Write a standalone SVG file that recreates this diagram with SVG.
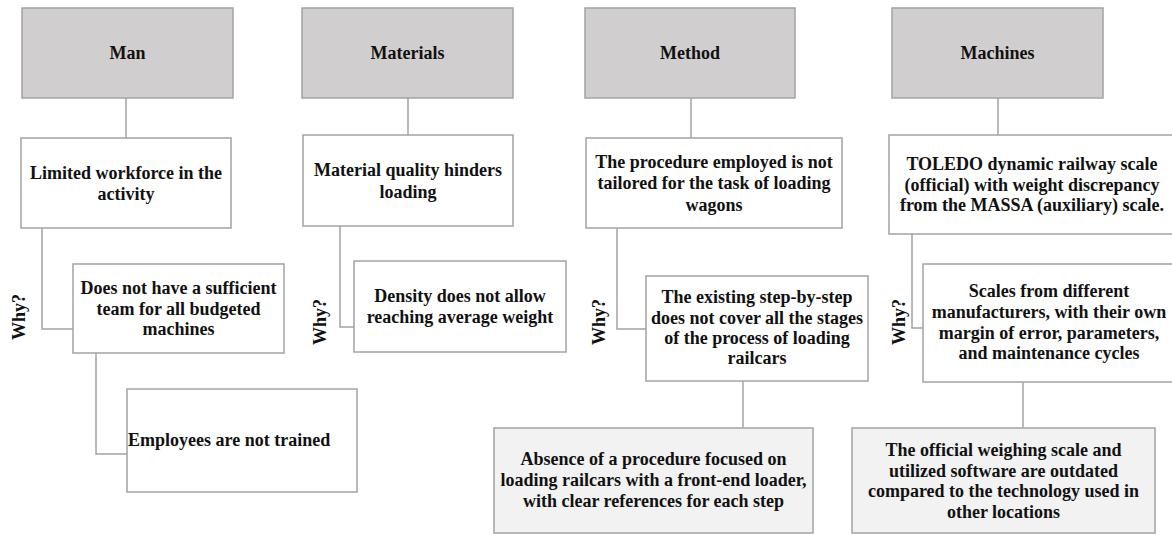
<svg xmlns="http://www.w3.org/2000/svg" width="1172" height="535" viewBox="0 0 1172 535">
<style>
.box{fill:#ffffff;stroke:#a3a3a3;stroke-width:1.5}
.hdr{fill:#d0cece;stroke:#a3a3a3;stroke-width:1.5}
.root{fill:#f2f2f2;stroke:#a3a3a3;stroke-width:1.5}
.con{fill:none;stroke:#a3a3a3;stroke-width:1.5}
text{font-family:'Liberation Serif',serif;font-weight:bold;font-size:18px;fill:#111111;text-anchor:middle}
.why{dominant-baseline:central}
</style>
<rect width="1172" height="535" fill="#ffffff"/>
<g id="connectors">
<path class="con" d="M126,98V138"/>
<path class="con" d="M42,228V329H73"/>
<path class="con" d="M96,353V454H127"/>
<path class="con" d="M408,98V135"/>
<path class="con" d="M340,226V327H354"/>
<path class="con" d="M691,98V138"/>
<path class="con" d="M617,228V329H646"/>
<path class="con" d="M743,381V428"/>
<path class="con" d="M998,98V135"/>
<path class="con" d="M912,234V328H923"/>
<path class="con" d="M1023,382V428"/>
</g>
<g font-family="Liberation Serif, serif">
<g id="man">
<rect class="hdr" x="22" y="8" width="211" height="90"/>
<text x="127.5" y="59">Man</text>
</g>
<g id="man1">
<rect class="box" x="21" y="138" width="210" height="90"/>
<text x="126" y="179">Limited workforce in the</text>
<text x="126" y="200">activity</text>
</g>
<g id="man2">
<rect class="box" x="73" y="264" width="211" height="89"/>
<text x="178.5" y="294">Does not have a sufficient</text>
<text x="178.5" y="315">team for all budgeted</text>
<text x="178.5" y="335">machines</text>
</g>
<g id="man3">
<rect class="box" x="127" y="389" width="230" height="103"/>
<text x="128" y="446" style="text-anchor:start">Employees are not trained</text>
</g>
<g id="why-man"><text class="why" transform="translate(19,317) rotate(-90)">Why?</text></g>
<g id="materials">
<rect class="hdr" x="302" y="8" width="211" height="90"/>
<text x="407.5" y="59">Materials</text>
</g>
<g id="materials1">
<rect class="box" x="303" y="135" width="210" height="91"/>
<text x="408" y="176">Material quality hinders</text>
<text x="408" y="198">loading</text>
</g>
<g id="materials2">
<rect class="box" x="354" y="261" width="212" height="91"/>
<text x="460" y="302">Density does not allow</text>
<text x="460" y="323">reaching average weight</text>
</g>
<g id="why-materials"><text class="why" transform="translate(320,322) rotate(-90)">Why?</text></g>
<g id="method">
<rect class="hdr" x="585" y="8" width="210" height="90"/>
<text x="690" y="59">Method</text>
</g>
<g id="method1">
<rect class="box" x="586" y="138" width="256" height="90"/>
<text x="714" y="168">The procedure employed is not</text>
<text x="714" y="189">tailored for the task of loading</text>
<text x="714" y="211">wagons</text>
</g>
<g id="method2">
<rect class="box" x="646" y="276" width="222" height="105"/>
<text x="757" y="303">The existing step-by-step</text>
<text x="757" y="324">does not cover all the stages</text>
<text x="757" y="344">of the process of loading</text>
<text x="757" y="364">railcars</text>
</g>
<g id="method3">
<rect class="root" x="494" y="428" width="319" height="105"/>
<text x="653.5" y="465">Absence of a procedure focused on</text>
<text x="653.5" y="486">loading railcars with a front-end loader,</text>
<text x="653.5" y="507">with clear references for each step</text>
</g>
<g id="why-method"><text class="why" transform="translate(599,322) rotate(-90)">Why?</text></g>
<g id="machines">
<rect class="hdr" x="892" y="8" width="211" height="90"/>
<text x="997.5" y="59">Machines</text>
</g>
<g id="machines1">
<rect class="box" x="889" y="135" width="300" height="99"/>
<text x="1032" y="170">TOLEDO dynamic railway scale</text>
<text x="1032" y="191">(official) with weight discrepancy</text>
<text x="1032" y="211">from the MASSA (auxiliary) scale.</text>
</g>
<g id="machines2">
<rect class="box" x="923" y="264" width="266" height="118"/>
<text x="1049" y="297">Scales from different</text>
<text x="1049" y="318">manufacturers, with their own</text>
<text x="1049" y="339">margin of error, parameters,</text>
<text x="1049" y="359">and maintenance cycles</text>
</g>
<g id="machines3">
<rect class="root" x="852" y="428" width="303" height="105"/>
<text x="1003.5" y="456">The official weighing scale and</text>
<text x="1003.5" y="477">utilized software are outdated</text>
<text x="1003.5" y="497">compared to the technology used in</text>
<text x="1003.5" y="518">other locations</text>
</g>
<g id="why-machines"><text class="why" transform="translate(899,322) rotate(-90)">Why?</text></g>
</g>
</svg>
